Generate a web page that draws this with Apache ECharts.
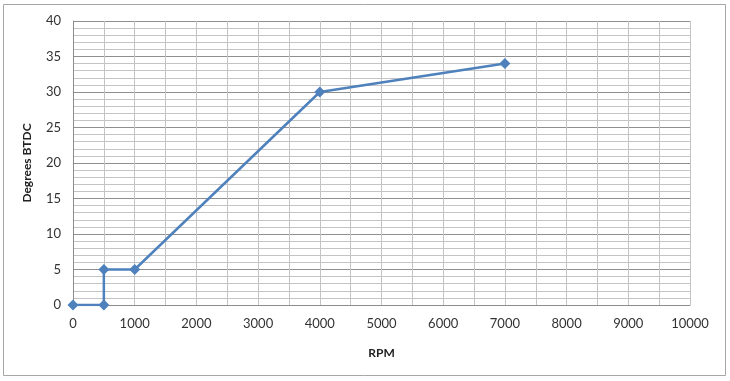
<!DOCTYPE html>
<html><head><meta charset="utf-8">
<script src="https://cdn.jsdelivr.net/npm/echarts@6/dist/echarts.min.js"></script>
<style>html,body{margin:0;padding:0;background:#fff}#c{width:730px;height:381px}</style>
</head><body><div id="c"></div>
<script>
const rpm = [0, 500, 500, 1000, 4000, 7000];
const degrees = [0, 0, 5, 5, 30, 34];
const xTicks = {min: 0, max: 10000, interval: 1000};
const yTicks = {min: 0, max: 40, interval: 5};
const xTitle = 'RPM';
const yTitle = 'Degrees BTDC';

const chart = echarts.init(document.getElementById('c'), null, {renderer: 'canvas'});
const font = 'Lato, "Open Sans", sans-serif';
chart.setOption({
  animation: false,
  backgroundColor: '#fff',
  graphic: [{type: 'rect', shape: {x: 3.5, y: 4.5, width: 722, height: 371}, style: {fill: 'none', stroke: '#a6a6a6', lineWidth: 1}}],
  grid: {left: 73, right: 40, top: 21, bottom: 76},
  xAxis: {
    type: 'value', min: xTicks.min, max: xTicks.max, interval: xTicks.interval,
    name: xTitle, nameLocation: 'middle', nameGap: 42,
    nameTextStyle: {fontFamily: font, fontWeight: 'bold', fontSize: 12, color: '#222'},
    axisLine: {show: true, lineStyle: {color: '#8c8c8c'}},
    axisTick: {show: false},
    axisLabel: {fontFamily: font, fontSize: 13, color: '#333', margin: 12, formatter: v => String(v)},
    splitLine: {show: true, lineStyle: {color: '#c4c4c4', width: 1}},
    minorTick: {show: false, splitNumber: 2},
    minorSplitLine: {show: true, lineStyle: {color: '#c4c4c4', width: 1}}
  },
  yAxis: {
    type: 'value', min: yTicks.min, max: yTicks.max, interval: yTicks.interval,
    name: yTitle, nameLocation: 'middle', nameGap: 40, nameRotate: 90,
    nameTextStyle: {fontFamily: font, fontWeight: 'bold', fontSize: 12, color: '#222'},
    axisLine: {show: true, lineStyle: {color: '#8c8c8c'}},
    axisTick: {show: false},
    axisLabel: {fontFamily: font, fontSize: 13, color: '#333', margin: 12, formatter: v => String(v)},
    splitLine: {show: true, lineStyle: {color: '#8f8f8f', width: 1}},
    minorTick: {show: false, splitNumber: 5},
    minorSplitLine: {show: true, lineStyle: {color: '#c4c4c4', width: 1}}
  },
  series: [{
    type: 'line',
    data: rpm.map((x, i) => [x, degrees[i]]),
    symbol: 'diamond', symbolSize: 11,
    lineStyle: {color: '#4f81bd', width: 2.5},
    itemStyle: {color: '#4f81bd'}
  }]
});
</script></body></html>
